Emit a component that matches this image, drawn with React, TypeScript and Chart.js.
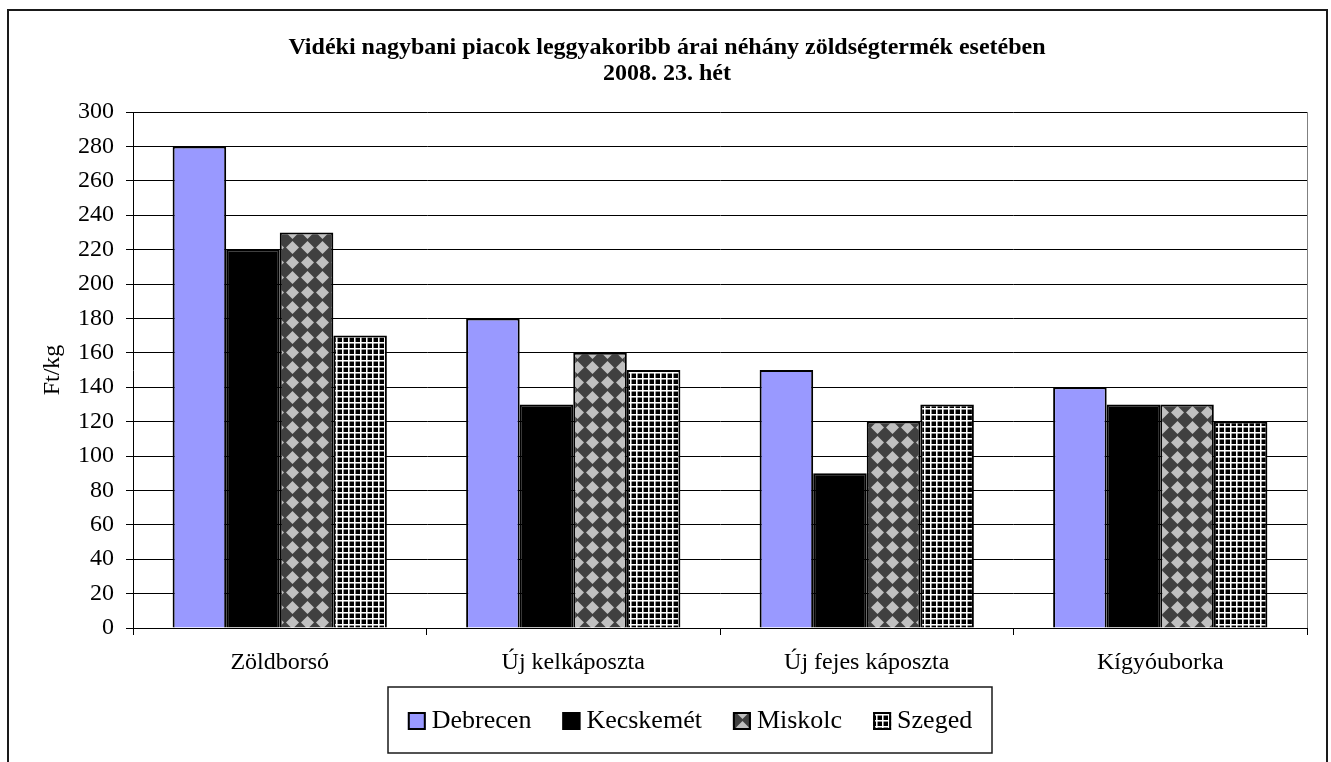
import React, { useEffect, useRef } from "react";
import { Chart, registerables } from "chart.js";

Chart.register(...registerables);

const titleLines = [
  "Vidéki nagybani piacok leggyakoribb árai néhány zöldségtermék esetében",
  "2008. 23. hét",
];
const yAxisTitle = "Ft/kg";
const categories = ["Zöldborsó", "Új kelkáposzta", "Új fejes káposzta", "Kígyóuborka"];
const seriesNames = ["Debrecen", "Kecskemét", "Miskolc", "Szeged"];
const debrecen = [280, 180, 150, 140];
const kecskemet = [220, 130, 90, 130];
const miskolc = [230, 160, 120, 130];
const szeged = [170, 150, 130, 120];
const yMin = 0;
const yMax = 300;
const yStep = 20;

const FONT = "'Liberation Serif', 'Times New Roman', serif";

function diamondPattern(ctx: CanvasRenderingContext2D) {
  const c = document.createElement("canvas");
  c.width = 15;
  c.height = 15;
  const g = c.getContext("2d")!;
  g.fillStyle = "#404040";
  g.fillRect(0, 0, 15, 15);
  g.fillStyle = "#c0c0c0";
  g.beginPath();
  g.moveTo(7.5, 1);
  g.lineTo(14, 7.5);
  g.lineTo(7.5, 14);
  g.lineTo(1, 7.5);
  g.closePath();
  g.fill();
  return ctx.createPattern(c, "repeat")!;
}

function gridPattern(ctx: CanvasRenderingContext2D) {
  const c = document.createElement("canvas");
  c.width = 6;
  c.height = 6;
  const g = c.getContext("2d")!;
  g.fillStyle = "#000000";
  g.fillRect(0, 0, 6, 6);
  g.fillStyle = "rgba(255,255,255,0.55)";
  g.fillRect(0, 1, 6, 1);
  g.fillRect(1, 0, 1, 6);
  g.fillStyle = "#ffffff";
  g.fillRect(0, 0, 6, 1);
  g.fillRect(0, 0, 1, 6);
  return ctx.createPattern(c, "repeat")!;
}

const decorPlugin = {
  id: "decor",
  beforeDatasetsDraw(chart: any) {
    const { ctx, chartArea } = chart;
    ctx.save();
    ctx.strokeStyle = "#808080";
    ctx.lineWidth = 1;
    ctx.beginPath();
    ctx.moveTo(Math.round(chartArea.right) + 0.5, chartArea.top);
    ctx.lineTo(Math.round(chartArea.right) + 0.5, chartArea.bottom);
    ctx.stroke();
    ctx.restore();
  },
  afterDraw(chart: any) {
    const { ctx } = chart;
    ctx.save();
    // outer frame
    ctx.strokeStyle = "#1a1a1a";
    ctx.lineWidth = 2;
    ctx.strokeRect(8, 10, 1319, 800);
    // title
    ctx.fillStyle = "#000";
    ctx.textAlign = "center";
    ctx.textBaseline = "middle";
    ctx.font = `bold 24px ${FONT}`;
    ctx.fillText(titleLines[0], 667, 48);
    ctx.fillText(titleLines[1], 667, 74);
    // legend
    const boxL = 388, boxT = 687, boxW = 604, boxH = 66;
    ctx.strokeStyle = "#1a1a1a";
    ctx.lineWidth = 1.5;
    ctx.strokeRect(boxL, boxT, boxW, boxH);
    ctx.font = `26px ${FONT}`;
    ctx.textAlign = "left";
    const sw = 18, gapText = 6, gapItem = 31;
    const widths = chart.data.datasets.map((d: any) => sw + gapText + ctx.measureText(d.label).width);
    const total = widths.reduce((a: number, b: number) => a + b, 0) + gapItem * (widths.length - 1);
    let x = boxL + (boxW - total) / 2;
    const cy = 721;
    chart.data.datasets.forEach((d: any, i: number) => {
      ctx.fillStyle = d.backgroundColor;
      ctx.fillRect(x, cy - sw / 2, sw, sw);
      ctx.strokeStyle = "#000";
      ctx.lineWidth = 2;
      ctx.strokeRect(x + 1, cy - sw / 2 + 1, sw - 2, sw - 2);
      ctx.fillStyle = "#000";
      ctx.textBaseline = "middle";
      ctx.fillText(d.label, x + sw + gapText, cy);
      x += widths[i] + gapItem;
    });
    ctx.restore();
  },
};

export default function App() {
  const ref = useRef<HTMLCanvasElement>(null);
  useEffect(() => {
    const canvas = ref.current!;
    const ctx = canvas.getContext("2d")!;
    const fills = ["#9999ff", "#000000", diamondPattern(ctx), gridPattern(ctx)];
    const values = [debrecen, kecskemet, miskolc, szeged];
    const chart = new Chart(canvas, {
      type: "bar",
      data: {
        labels: categories,
        datasets: seriesNames.map((name, i) => ({
          label: name,
          data: values[i],
          backgroundColor: fills[i] as any,
          borderColor: "#000",
          borderWidth: 2,
          categoryPercentage: 0.73,
          barPercentage: 1,
        })),
      },
      options: {
        responsive: false,
        animation: false,
        devicePixelRatio: 1,
        layout: { padding: { left: 0, top: 112, right: 24, bottom: 0 } },
        plugins: {
          legend: { display: false },
          title: { display: false },
          tooltip: { enabled: false },
        },
        scales: {
          x: {
            grid: {
              drawOnChartArea: false,
              drawTicks: true,
              tickLength: 7,
              color: "#000",
              offset: true,
            },
            border: { color: "#000", width: 1 },
            ticks: {
              font: { family: FONT, size: 24 },
              color: "#000",
              padding: 13,
              maxRotation: 0,
              autoSkip: false,
            },
            afterFit: (s: any) => {
              s.height = 134;
            },
          },
          y: {
            min: yMin,
            max: yMax,
            ticks: {
              stepSize: yStep,
              font: { family: FONT, size: 24 },
              color: "#000",
              padding: 12,
            },
            grid: { color: "#000", tickLength: 7 },
            border: { color: "#000", width: 1 },
            title: {
              display: true,
              text: yAxisTitle,
              font: { family: FONT, size: 24, lineHeight: 1.2 },
              color: "#000",
              padding: { top: 38, bottom: 0 },
            },
            afterFit: (s: any) => {
              s.width = 133;
            },
          },
        },
      },
      plugins: [decorPlugin],
    });
    return () => chart.destroy();
  }, []);
  return (
    <div style={{ position: "absolute", left: 0, top: 0, width: 1331, height: 762, background: "#fff" }}>
      <canvas ref={ref} width={1331} height={762} style={{ display: "block" }} />
    </div>
  );
}
